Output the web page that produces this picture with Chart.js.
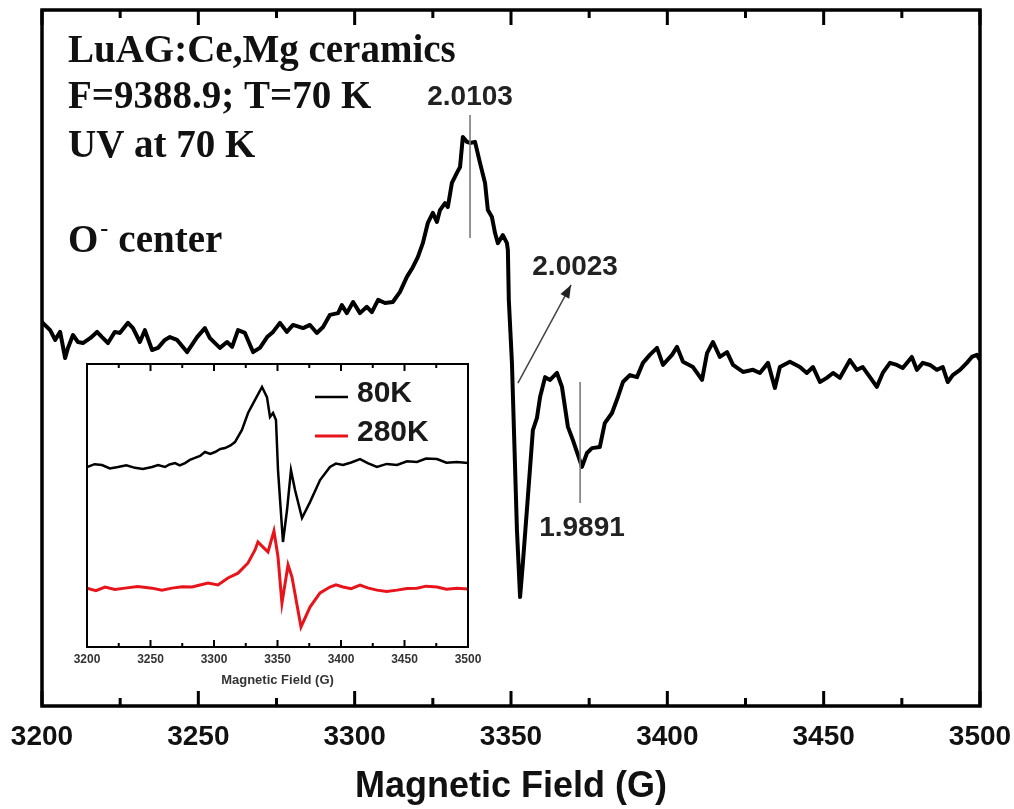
<!DOCTYPE html>
<html>
<head>
<meta charset="utf-8">
<title>LuAG:Ce,Mg EPR</title>
<script src="https://cdn.jsdelivr.net/npm/chart.js@4.4.1/dist/chart.umd.min.js"></script>
<style>
  body { margin: 0; background: #fff; }
  #wrap { position: relative; width: 1014px; height: 809px; }
  #mainChart { position: absolute; left: 0; top: 0; }
  #insetChart { position: absolute; left: 60px; top: 350px; }
</style>
</head>
<body>
<div id="wrap">
  <canvas id="mainChart" width="1014" height="809"></canvas>
  <canvas id="insetChart" width="430" height="350"></canvas>
</div>
<script>
// Main spectrum (70 K, after UV at 70 K), arbitrary intensity units
const fieldMain = [
  3200, 3202.6, 3204.2, 3205.8, 3207.4, 3208.3, 3209.9, 3211.5, 3213.1, 3215.4,
  3217.6, 3219.2, 3221.1, 3223.3, 3224.9, 3227.5, 3229.1, 3231.3, 3232.9, 3235.2,
  3237.1, 3239.3, 3240.9, 3243.2, 3246.4, 3249.6, 3252.1, 3253.7, 3256.9, 3259.2,
  3260.8, 3262.7, 3264.9, 3267.5, 3269.7, 3272.0, 3273.9, 3276.1, 3278.3, 3280.3,
  3283.5, 3285.7, 3287.9, 3289.9, 3292.1, 3294.7, 3295.9, 3297.5, 3299.5, 3301.7,
  3303.9, 3305.5, 3307.5, 3309.7, 3312.2, 3314.5, 3316.7, 3318.6, 3320.2, 3321.8,
  3323.4, 3325.0, 3326.3, 3327.3, 3328.9, 3329.8, 3331.1, 3332.7, 3333.7, 3334.6,
  3335.9, 3336.9, 3338.5, 3340.1, 3341.7, 3342.6, 3343.9, 3344.9, 3345.8, 3347.4,
  3348.7, 3349.0, 3349.3, 3350.3, 3351.9, 3352.9, 3353.8, 3355.4, 3357.0, 3358.3,
  3359.3, 3360.9, 3362.5, 3364.7, 3366.3, 3368.2, 3369.8, 3372.7, 3374.3, 3375.9,
  3378.4, 3380.0, 3382.3, 3384.2, 3385.8, 3388.0, 3390.3, 3392.2, 3394.4, 3396.7,
  3398.6, 3401.5, 3403.1, 3405.0, 3408.2, 3411.1, 3412.7, 3414.6, 3416.8, 3419.1,
  3421.0, 3424.2, 3427.4, 3429.6, 3432.2, 3434.4, 3436.0, 3439.2, 3442.4, 3444.6,
  3446.6, 3448.8, 3451.0, 3453.0, 3455.2, 3458.4, 3460.6, 3462.5, 3464.8, 3467.0,
  3468.9, 3471.2, 3473.4, 3475.3, 3478.2, 3479.8, 3481.7, 3484.0, 3486.2, 3488.1,
  3489.7, 3491.3, 3493.6, 3495.8, 3497.4, 3499.0, 3500
];
const signalMain = [
  10.3, 8.0, 5.2, 7.5, 0.0, 2.9, 6.6, 4.6, 4.3, 5.7,
  7.5, 6.0, 4.3, 7.5, 7.2, 10.1, 8.6, 4.6, 8.0, 2.3,
  2.9, 5.2, 6.0, 5.2, 1.7, 6.0, 8.6, 5.7, 2.9, 4.6,
  3.2, 8.0, 7.2, 1.7, 2.9, 6.0, 7.5, 10.1, 7.5, 9.5,
  8.6, 9.5, 7.2, 8.9, 12.4, 12.9, 15.2, 12.9, 16.1, 12.9,
  14.7, 13.2, 16.7, 15.8, 16.1, 19.0, 23.3, 26.1, 29.0, 33.0,
  38.8, 41.7, 39.1, 42.5, 44.5, 43.4, 50.3, 53.2, 54.9, 63.5,
  62.1, 61.8, 62.1, 56.0, 50.3, 42.5, 40.5, 35.9, 33.0, 35.3,
  33.0, 31.0, 16.7, -1.4, -49.4, -68.7, -58.9, -39.9, -20.7, -17.2,
  -11.2, -5.5, -6.3, -4.3, -8.3, -19.8, -23.6, -31.3, -27.3, -25.9,
  -25.6, -18.7, -15.8, -11.2, -6.9, -4.9, -5.5, -1.4, 0.9, 2.9,
  -2.0, 0.9, 3.2, -1.1, -2.6, -6.3, 1.4, 4.6, 0.3, 1.7,
  -2.0, -4.0, -3.4, -4.3, -1.4, -8.6, -2.6, -1.1, -2.6, -4.3,
  -2.6, -6.9, -5.7, -4.3, -5.7, -0.6, -3.4, -2.6, -5.5, -8.3,
  -4.3, -1.4, -2.0, -2.9, 0.3, -3.4, -1.4, -2.0, -3.4, -2.6,
  -6.9, -4.9, -3.4, -1.4, 0.3, 0.9, -0.6
];

// Inset spectra
const fieldInset80 = [
  3200, 3206, 3211.8, 3218, 3224.4, 3231, 3237.8, 3244, 3251.2, 3256,
  3261.4, 3265, 3269.3, 3273, 3277.2, 3281, 3285.0, 3289, 3292.9, 3297,
  3300.8, 3305, 3308.7, 3313, 3316.5, 3322.0, 3326.8, 3332.3, 3337.8, 3341.7,
  3344.1, 3346.5, 3348.8, 3350.4, 3354.3, 3357.5, 3360.6, 3363.8, 3369.3, 3375.6,
  3383.5, 3391.3, 3396, 3401.6, 3408, 3415.0, 3421, 3428.3, 3436, 3444.1,
  3452, 3459.8, 3467, 3475.6, 3483, 3491.3, 3500
];
const signalInset80 = [
  63.6, 64.6, 64.3, 63.1, 63.6, 64.2, 63.3, 62.9, 63.6, 64.3,
  63.6, 64.5, 65.0, 64.2, 65.0, 66.1, 66.8, 67.5, 68.9, 68.2,
  68.9, 70.0, 70.3, 71.2, 72.4, 76.7, 82.7, 87.3, 91.9, 88.3,
  81.3, 82.7, 80.2, 62.5, 37.1, 48.4, 62.5, 55.5, 45.6, 51.2,
  59.0, 63.6, 64.8, 64.3, 65.2, 66.4, 65.0, 63.6, 64.7, 64.3,
  65.6, 65.4, 66.6, 66.4, 65.1, 65.4, 65.0
];
const fieldInset280 = [
  3200, 3207, 3214.2, 3222, 3229.9, 3240, 3251.2, 3259, 3266.9, 3275,
  3282.7, 3289, 3295.3, 3303.1, 3311.0, 3318.9, 3326.8, 3332.3, 3334.6, 3338.6,
  3342.5, 3347.2, 3350.4, 3353.5, 3358.3, 3361.4, 3368.5, 3375.6, 3383.5, 3391.3,
  3396, 3401.6, 3408, 3415.0, 3421, 3428.3, 3436, 3444.1, 3452, 3459.8,
  3467, 3475.6, 3483, 3491.3, 3500
];
const signalInset280 = [
  20.8, 19.9, 21.2, 20.3, 20.8, 21.4, 20.8, 20.1, 20.8, 21.3,
  21.2, 21.9, 22.6, 21.9, 24.4, 26.1, 29.7, 34.3, 37.1, 35.3,
  33.6, 41.0, 31.8, 15.5, 29.0, 24.7, 7.1, 14.1, 19.1, 21.2,
  22.0, 21.2, 20.6, 21.9, 20.9, 20.1, 19.6, 20.1, 20.7, 20.8,
  21.5, 21.2, 20.4, 20.8, 20.5
];
const insetLabels = ['80K', '280K'];
const fieldTicks = [3200, 3250, 3300, 3350, 3400, 3450, 3500];

const SANS = "'Liberation Sans', Arial, sans-serif";
const SERIF = "'Liberation Serif', 'Times New Roman', serif";

function toPoints(xs, ys) {
  return xs.map((x, i) => ({ x, y: ys[i] }));
}

// keep the plot box where the layout padding says, labels may overhang
function fixedHeight(h) {
  return s => {
    s.height = h;
    s.paddingLeft = 0;
    s.paddingRight = 0;
  };
}

// inward ticks on top and bottom + box frame
const frameTicks = {
  id: 'frameTicks',
  beforeDatasetsDraw(chart, args, opts) {
    if (!opts.fill) return;
    const { ctx, chartArea: a } = chart;
    ctx.save();
    ctx.fillStyle = '#fff';
    ctx.fillRect(a.left, a.top, a.right - a.left, a.bottom - a.top);
    ctx.restore();
  },
  afterDraw(chart, args, opts) {
    const { ctx, chartArea: a } = chart;
    const x = chart.scales.x;
    ctx.save();
    ctx.strokeStyle = '#000';
    ctx.lineWidth = opts.tickWidth;
    for (let v = x.min; v <= x.max + 1e-6; v += opts.minor) {
      const px = x.getPixelForValue(v);
      const len = Math.round(v - x.min) % opts.major === 0 ? opts.majorLen : opts.minorLen;
      ctx.beginPath();
      ctx.moveTo(px, a.bottom);
      ctx.lineTo(px, a.bottom - len);
      ctx.moveTo(px, a.top);
      ctx.lineTo(px, a.top + len);
      ctx.stroke();
    }
    ctx.lineWidth = opts.frameWidth;
    ctx.strokeRect(a.left, a.top, a.right - a.left, a.bottom - a.top);
    ctx.restore();
  }
};

// text block, g-value markers and arrow on the main chart
const mainNotes = {
  id: 'mainNotes',
  afterDatasetsDraw(chart) {
    const { ctx, chartArea: a } = chart;
    const x = chart.scales.x, y = chart.scales.y;
    ctx.save();

    ctx.fillStyle = '#111';
    ctx.textBaseline = 'alphabetic';
    ctx.textAlign = 'left';
    ctx.font = `bold 39px ${SERIF}`;
    const tx = a.left + 26;
    ctx.fillText('LuAG:Ce,Mg ceramics', tx, a.top + 52);
    ctx.fillText('F=9388.9; T=70 K', tx, a.top + 98);
    ctx.fillText('UV at 70 K', tx, a.top + 147);
    ctx.fillText('O', tx, a.top + 242);
    const ow = ctx.measureText('O').width;
    ctx.font = `bold 24px ${SERIF}`;
    ctx.fillText('-', tx + ow + 2, a.top + 226);
    ctx.font = `bold 39px ${SERIF}`;
    ctx.fillText('center', tx + ow + 20, a.top + 242);

    // vertical markers
    ctx.strokeStyle = '#7a7a7a';
    ctx.lineWidth = 1.6;
    const markers = [
      { f: 3336.9, top: 69.8, bot: 34.5 },
      { f: 3372.1, top: -6.9, bot: -41.7 }
    ];
    markers.forEach(m => {
      const px = x.getPixelForValue(m.f);
      ctx.beginPath();
      ctx.moveTo(px, y.getPixelForValue(m.top));
      ctx.lineTo(px, y.getPixelForValue(m.bot));
      ctx.stroke();
    });

    // arrow for 2.0023
    const x0 = x.getPixelForValue(3352.2), y0 = y.getPixelForValue(-7.2);
    const x1 = x.getPixelForValue(3369.2), y1 = y.getPixelForValue(21.0);
    ctx.strokeStyle = '#444';
    ctx.lineWidth = 1.5;
    ctx.beginPath();
    ctx.moveTo(x0, y0);
    ctx.lineTo(x1, y1);
    ctx.stroke();
    const ang = Math.atan2(y1 - y0, x1 - x0);
    ctx.fillStyle = '#222';
    ctx.beginPath();
    ctx.moveTo(x1, y1);
    ctx.lineTo(x1 - 13 * Math.cos(ang) + 5 * Math.sin(ang), y1 - 13 * Math.sin(ang) - 5 * Math.cos(ang));
    ctx.lineTo(x1 - 13 * Math.cos(ang) - 5 * Math.sin(ang), y1 - 13 * Math.sin(ang) + 5 * Math.cos(ang));
    ctx.closePath();
    ctx.fill();

    // g-value labels
    ctx.fillStyle = '#222';
    ctx.font = `bold 28px ${SANS}`;
    ctx.textAlign = 'center';
    ctx.textBaseline = 'middle';
    ctx.fillText('2.0103', x.getPixelForValue(3336.9), y.getPixelForValue(75.0));
    ctx.fillText('2.0023', x.getPixelForValue(3370.5), y.getPixelForValue(26.1));
    ctx.fillText('1.9891', x.getPixelForValue(3372.7), y.getPixelForValue(-48.9));
    ctx.restore();
  }
};

// small legend inside the inset
const insetLegend = {
  id: 'insetLegend',
  afterDatasetsDraw(chart) {
    const { ctx, chartArea: a } = chart;
    ctx.save();
    ctx.font = `bold 30px ${SANS}`;
    ctx.textAlign = 'left';
    ctx.textBaseline = 'middle';
    chart.data.datasets.forEach((ds, i) => {
      const ly = a.top + 33 + i * 39;
      ctx.strokeStyle = ds.borderColor;
      ctx.lineWidth = ds.borderWidth;
      ctx.beginPath();
      ctx.moveTo(a.left + 228, ly);
      ctx.lineTo(a.left + 261, ly);
      ctx.stroke();
      ctx.fillStyle = '#1a1a1a';
      ctx.fillText(ds.label, a.left + 270, ly - 3);
    });
    ctx.restore();
  }
};

new Chart(document.getElementById('mainChart'), {
  type: 'line',
  data: {
    datasets: [{
      label: 'UV at 70 K',
      data: toPoints(fieldMain, signalMain),
      borderColor: '#000',
      borderWidth: 4,
      borderJoinStyle: 'round',
      pointRadius: 0,
      tension: 0
    }]
  },
  options: {
    responsive: false,
    animation: false,
    layout: { padding: { left: 42, right: 34, top: 10, bottom: 0 } },
    plugins: {
      legend: { display: false },
      tooltip: { enabled: false },
      frameTicks: { minor: 25, major: 50, majorLen: 15, minorLen: 8, tickWidth: 3, frameWidth: 3.5 }
    },
    scales: {
      x: {
        type: 'linear',
        min: 3200,
        max: 3500,
        afterBuildTicks: s => { s.ticks = fieldTicks.map(v => ({ value: v })); },
        afterFit: fixedHeight(103),
        grid: { display: false, drawTicks: false },
        border: { display: false },
        ticks: {
          autoSkip: false,
          maxRotation: 0,
          padding: 14,
          color: '#111',
          font: { family: SANS, size: 28, weight: 'bold' },
          callback: v => String(v)
        },
        title: {
          display: true,
          text: 'Magnetic Field (G)',
          color: '#111',
          font: { family: SANS, size: 36, weight: 'bold' },
          padding: { top: 0, bottom: 0 }
        }
      },
      y: { display: false, min: -100, max: 100 }
    }
  },
  plugins: [frameTicks, mainNotes]
});

new Chart(document.getElementById('insetChart'), {
  type: 'line',
  data: {
    datasets: [{
      label: insetLabels[0],
      data: toPoints(fieldInset80, signalInset80),
      borderColor: '#000',
      borderWidth: 2.5,
      pointRadius: 0,
      tension: 0
    }, {
      label: insetLabels[1],
      data: toPoints(fieldInset280, signalInset280),
      borderColor: 'rgb(232,20,28)',
      borderWidth: 3,
      pointRadius: 0,
      tension: 0
    }]
  },
  options: {
    responsive: false,
    animation: false,
    layout: { padding: { left: 27, right: 22, top: 14, bottom: 0 } },
    plugins: {
      legend: { display: false },
      tooltip: { enabled: false },
      frameTicks: { minor: 25, major: 50, majorLen: 7, minorLen: 4, tickWidth: 2, frameWidth: 2, fill: true }
    },
    scales: {
      x: {
        type: 'linear',
        min: 3200,
        max: 3500,
        afterBuildTicks: s => { s.ticks = fieldTicks.map(v => ({ value: v })); },
        afterFit: fixedHeight(53),
        grid: { display: false, drawTicks: false },
        border: { display: false },
        ticks: {
          autoSkip: false,
          maxRotation: 0,
          padding: 5,
          color: '#333',
          font: { family: SANS, size: 12, weight: 'bold' },
          callback: v => String(v)
        },
        title: {
          display: true,
          text: 'Magnetic Field (G)',
          color: '#333',
          font: { family: SANS, size: 13, weight: 'bold' },
          padding: { top: 0, bottom: 12 }
        }
      },
      y: { display: false, min: 0, max: 100 }
    }
  },
  plugins: [frameTicks, insetLegend]
});
</script>
</body>
</html>
